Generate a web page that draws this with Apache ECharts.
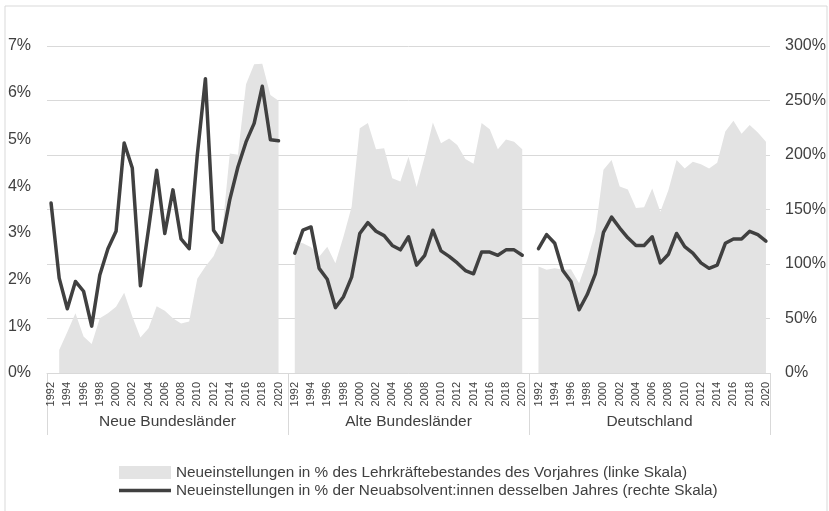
<!DOCTYPE html>
<html>
<head>
<meta charset="utf-8">
<title>Neueinstellungen Lehrkräfte</title>
<script src="https://cdn.jsdelivr.net/npm/echarts@6/dist/echarts.min.js"></script>
<style>
  html, body { margin: 0; padding: 0; background: #fff; }
  #chart { width: 829px; height: 511px; }
</style>
</head>
<body>
<div id="chart"></div>
<script>
// Jahre je Gruppe (Kategorieachse)
const years = ['1992', '1993', '1994', '1995', '1996', '1997', '1998', '1999', '2000',
    '2001', '2002', '2003', '2004', '2005', '2006', '2007', '2008', '2009', '2010',
    '2011', '2012', '2013', '2014', '2015', '2016', '2017', '2018', '2019', '2020'];

const groups = ['Neue Bundesländer', 'Alte Bundesländer', 'Deutschland'];

const leftTicks = ['0%', '1%', '2%', '3%', '4%', '5%', '6%', '7%'];
const rightTicks = ['0%', '50%', '100%', '150%', '200%', '250%', '300%'];

// Neueinstellungen in % des Lehrkräftebestandes des Vorjahres (linke Skala)
const neueShare = [null, 0.49, 0.88, 1.28, 0.78, 0.62, 1.17, 1.28, 1.42, 1.72, 1.21, 0.76, 0.96, 1.43, 1.33,
    1.17, 1.06, 1.10, 2.02, 2.28, 2.50, 2.90, 4.70, 4.67, 6.18, 6.61, 6.62, 5.95, 5.83];
const alteShare = [2.81, 2.78, 2.69, 2.49, 2.70, 2.35, 2.92, 3.56, 5.24, 5.35, 4.79, 4.81, 4.17, 4.10, 4.63,
    3.98, 4.63, 5.36, 4.92, 5.02, 4.88, 4.58, 4.48, 5.35, 5.22, 4.79, 5.00, 4.95, 4.79];
const deShare = [2.28, 2.21, 2.24, 2.21, 2.22, 1.92, 2.42, 3.03, 4.35, 4.56, 3.99, 3.93, 3.53, 3.55, 3.95,
    3.45, 3.92, 4.56, 4.38, 4.52, 4.47, 4.38, 4.50, 5.17, 5.40, 5.12, 5.31, 5.15, 4.95];

// Neueinstellungen in % der Neuabsolvent:innen desselben Jahres (rechte Skala)
const neueRatio = [156, 87, 59, 84, 75, 43, 90, 114, 130, 211, 188, 80, 132, 186, 128,
    168, 123, 114, 200, 270, 131, 120, 159, 189, 212, 229, 263, 214, 213];
const alteRatio = [110, 131, 134, 96, 86, 60, 70, 88, 128, 138, 130, 126, 117, 113, 125,
    99, 108, 131, 112, 107, 101, 94, 91, 111, 111, 108, 113, 113, 108];
const deRatio = [114, 127, 119, 94, 84, 58, 72, 91, 129, 143, 133, 124, 117, 117, 125,
    101, 109, 128, 116, 110, 101, 96, 99, 119, 123, 123, 130, 127, 121];

const shareName = 'Neueinstellungen in % des Lehrkräftebestandes des Vorjahres (linke Skala)';
const ratioName = 'Neueinstellungen in % der Neuabsolvent:innen desselben Jahres (rechte Skala)';

const FONT = "'Liberation Sans Narrow', 'Arial Narrow', 'Liberation Sans', sans-serif";
const TEXT = '#404040';
const GRID = '#d9d9d9';

/**
 * Join the three groups into one category axis, with one empty slot between groups
 */
function joinGroups(parts, gapValue) {
    const out = [];
    parts.forEach((p, i) => {
        out.push(...p);
        if (i < parts.length - 1) out.push(gapValue);
    });
    return out;
}

const categories = joinGroups(groups.map((g, gi) => years.map(y => gi + '-' + y)), null)
    .map((c, i) => c === null ? 'gap-' + i : c);

const shareData = joinGroups([neueShare, alteShare, deShare], null);
const ratioData = joinGroups([neueRatio, alteRatio, deRatio], null);

const chart = echarts.init(document.getElementById('chart'), null, { renderer: 'canvas' });

const option = {
    animation: false,
    textStyle: { fontFamily: FONT, color: TEXT },
    graphic: [{
        type: 'rect',
        shape: { x: 5, y: 6, width: 822, height: 530 },
        style: { fill: 'none', stroke: GRID, lineWidth: 1 },
        silent: true,
    }],
    grid: { left: 47, right: 59, top: 46, bottom: 138, containLabel: false },
    legend: {
        orient: 'vertical',
        left: 114,
        top: 460,
        itemWidth: 52,
        itemHeight: 13,
        itemGap: 3,
        textStyle: { fontFamily: FONT, fontSize: 15.3, color: TEXT },
        data: [
            { name: shareName, icon: 'rect' },
            { name: ratioName, icon: 'path://M0,0 L52,0 L52,3.5 L0,3.5 Z' },
        ],
    },
    xAxis: [
        {
            type: 'category',
            data: categories,
            boundaryGap: true,
            axisLine: { lineStyle: { color: GRID, width: 1 } },
            axisTick: { show: false },
            axisLabel: {
                rotate: 90,
                margin: 9,
                fontSize: 11,
                fontFamily: FONT,
                color: TEXT,
                interval: (idx, val) => {
                    if (val.startsWith('gap')) return false;
                    return Number(val.split('-')[1]) % 2 === 0;
                },
                formatter: val => val.startsWith('gap') ? '' : val.split('-')[1],
            },
        },
        {
            type: 'category',
            data: groups,
            position: 'bottom',
            boundaryGap: true,
            axisLine: { show: false },
            axisTick: { show: true, interval: 0, length: 62, lineStyle: { color: GRID } },
            axisLabel: { margin: 41, fontSize: 15.5, fontFamily: FONT, color: TEXT, interval: 0 },
        },
    ],
    yAxis: [
        {
            type: 'value',
            min: 0,
            max: 7,
            interval: 1,
            position: 'left',
            axisLine: { show: false },
            axisTick: { show: false },
            splitLine: { show: false },
            axisLabel: {
                margin: 16,
                fontSize: 16,
                color: TEXT,
                fontFamily: FONT,
                formatter: v => leftTicks[Math.round(v)],
            },
        },
        {
            type: 'value',
            min: 0,
            max: 300,
            interval: 50,
            position: 'right',
            axisLine: { show: false },
            axisTick: { show: false },
            splitLine: { show: true, lineStyle: { color: GRID, width: 1 } },
            axisLabel: {
                margin: 15,
                fontSize: 16,
                color: TEXT,
                fontFamily: FONT,
                formatter: v => rightTicks[Math.round(v / 50)],
            },
        },
    ],
    series: [
        {
            name: shareName,
            type: 'line',
            xAxisIndex: 0,
            yAxisIndex: 0,
            data: shareData,
            symbol: 'none',
            connectNulls: false,
            itemStyle: { color: '#e3e3e3' },
            lineStyle: { width: 0, color: '#e3e3e3' },
            areaStyle: { color: '#e3e3e3', opacity: 1 },
            z: 1,
        },
        {
            name: ratioName,
            type: 'line',
            xAxisIndex: 0,
            yAxisIndex: 1,
            data: ratioData,
            symbol: 'none',
            connectNulls: false,
            itemStyle: { color: '#404040' },
            lineStyle: { width: 3.5, color: '#404040', join: 'round', cap: 'round' },
            z: 3,
        },
    ],
};

chart.setOption(option);
</script>
</body>
</html>
